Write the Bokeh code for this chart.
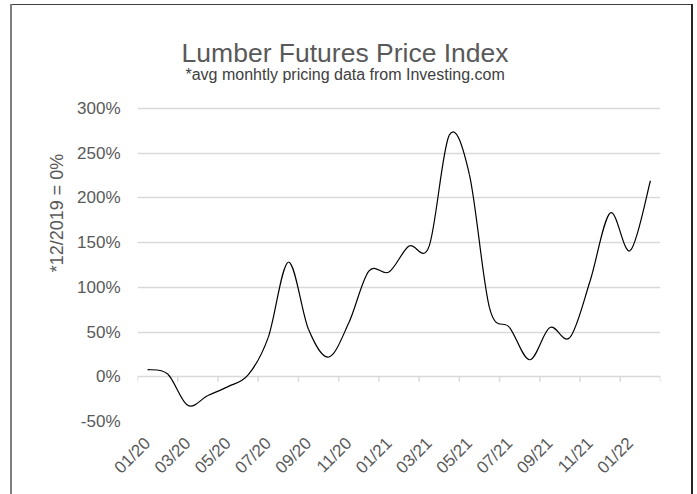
import math
from bokeh.plotting import figure
from bokeh.models import Range1d, FixedTicker, Label
from bokeh.embed import file_html
from bokeh.resources import INLINE

# ---- data ----
months = ["01/20", "02/20", "03/20", "04/20", "05/20", "06/20", "07/20", "08/20",
          "09/20", "10/20", "11/20", "12/20", "01/21", "02/21", "03/21", "04/21",
          "05/21", "06/21", "07/21", "08/21", "09/21", "10/21", "11/21", "12/21",
          "01/22", "02/22"]
values = [8, 3, -32, -21, -11, 2, 44, 128, 53, 22, 60, 118, 117, 146, 146, 270,
          226, 77, 55, 19, 55, 44, 107, 183, 141, 219]
y_ticks = [-50, 0, 50, 100, 150, 200, 250, 300]
title_text = "Lumber Futures Price Index"
subtitle_text = "*avg monhtly pricing data from Investing.com"
y_label = "*12/2019 = 0%"

FONT = "Liberation Sans"
TXT = "#595959"
GRID = "#d9d9d9"

n = len(months)
xs = [i + 0.5 for i in range(n)]

p = figure(width=683, height=490, output_backend="svg", toolbar_location=None,
           x_range=Range1d(0, n), y_range=Range1d(-50, 416),
           min_border_left=127, min_border_right=33, min_border_top=0,
           min_border_bottom=73)
p.border_fill_color = None
p.background_fill_color = None
p.outline_line_color = None
p.styles = {"margin-left": "10px", "margin-top": "4px",
            "box-shadow": "inset 2px 0 0 #7f7f7f, inset -2px 0 0 #262626, inset 0 1px 0 #404040"}

# grid
p.xgrid.visible = False
p.ygrid.ticker = FixedTicker(ticks=y_ticks)
p.ygrid.grid_line_color = GRID
p.ygrid.grid_line_width = 1.5

# y axis
ya = p.yaxis[0]
ya.ticker = FixedTicker(ticks=y_ticks)
ya.major_label_overrides = {v: f"{v}%" for v in y_ticks}
ya.axis_line_color = None
ya.major_tick_line_color = None
ya.minor_tick_line_color = None
ya.major_tick_out = 0
ya.major_tick_in = 0
ya.major_label_standoff = 17
ya.major_label_text_font = FONT
ya.major_label_text_font_size = "17px"
ya.major_label_text_color = TXT
ya.axis_label = y_label
ya.axis_label_text_font = FONT
ya.axis_label_text_font_size = "18px"
ya.axis_label_text_font_style = "normal"
ya.axis_label_text_color = TXT
ya.axis_label_standoff = 7

# x axis (labels every other month)
xa = p.xaxis[0]
label_pos = [xs[i] for i in range(0, n, 2)]
xa.ticker = FixedTicker(ticks=label_pos)
xa.major_label_overrides = {xs[i]: months[i] for i in range(0, n, 2)}
xa.major_label_orientation = math.pi / 4
xa.axis_line_color = None
xa.major_tick_line_color = None
xa.minor_tick_line_color = None
xa.major_tick_out = 0
xa.major_tick_in = 0
xa.major_label_standoff = 19
xa.major_label_text_font = FONT
xa.major_label_text_font_size = "17px"
xa.major_label_text_color = TXT

# tick marks on the 0% line at every second month boundary
bounds = list(range(0, n + 1, 2))
tick_len = 5.6
p.segment(x0=bounds, y0=[0] * len(bounds), x1=bounds, y1=[-tick_len] * len(bounds),
          line_color=GRID, line_width=1.5)

# smoothed line (Bezier through every data point)
pts = list(zip(xs, values))
x0s, y0s, x1s, y1s, cx0, cy0, cx1, cy1 = [], [], [], [], [], [], [], []
for i in range(n - 1):
    pm = pts[i - 1] if i > 0 else pts[i]
    p0 = pts[i]
    p1 = pts[i + 1]
    p2 = pts[i + 2] if i + 2 < n else pts[i + 1]
    x0s.append(p0[0]); y0s.append(p0[1])
    x1s.append(p1[0]); y1s.append(p1[1])
    cx0.append(p0[0] + (p1[0] - pm[0]) / 6); cy0.append(p0[1] + (p1[1] - pm[1]) / 6)
    cx1.append(p1[0] - (p2[0] - p0[0]) / 6); cy1.append(p1[1] - (p2[1] - p0[1]) / 6)
p.bezier(x0=x0s, y0=y0s, x1=x1s, y1=y1s, cx0=cx0, cy0=cy0, cx1=cx1, cy1=cy1,
         line_color="#000000", line_width=1.2)

# titles
title_x = 10.32
p.add_layout(Label(x=title_x, y=361.8, text=title_text, text_align="center",
                   text_baseline="alphabetic", text_font=FONT,
                   text_font_size="26.5px", text_color=TXT))
p.add_layout(Label(x=title_x, y=338.0, text=subtitle_text, text_align="center",
                   text_baseline="alphabetic", text_font=FONT,
                   text_font_size="16px", text_color="#404040"))

open("out.html", "w").write(file_html(p, INLINE))
